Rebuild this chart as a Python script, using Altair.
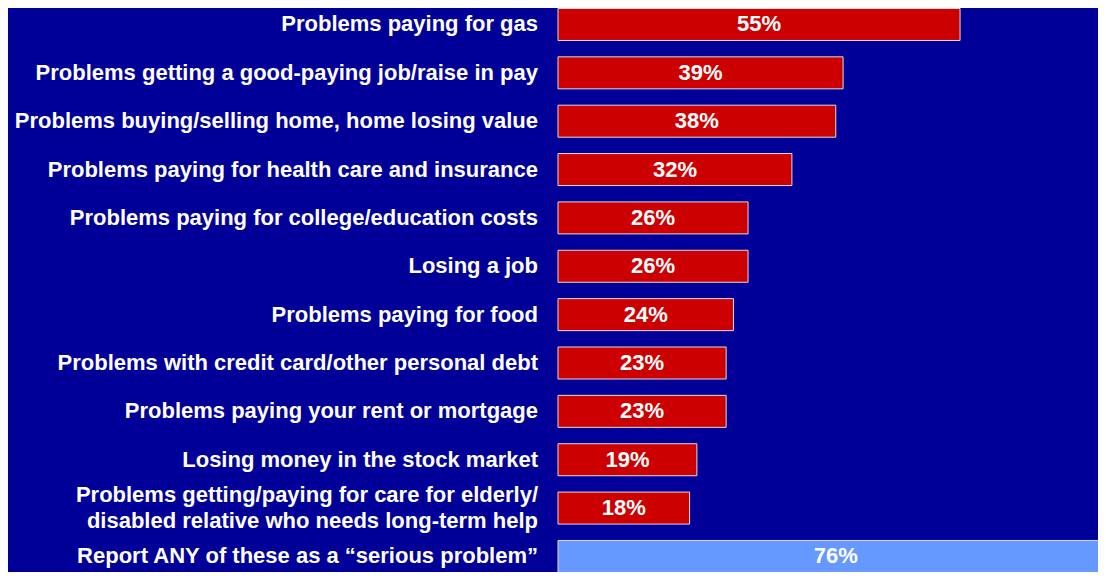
import altair as alt
import pandas as pd

categories = [
    "Problems paying for gas",
    "Problems getting a good-paying job/raise in pay",
    "Problems buying/selling home, home losing value",
    "Problems paying for health care and insurance",
    "Problems paying for college/education costs",
    "Losing a job",
    "Problems paying for food",
    "Problems with credit card/other personal debt",
    "Problems paying your rent or mortgage",
    "Losing money in the stock market",
    "Problems getting/paying for care for elderly/\ndisabled relative who needs long-term help",
    "Report ANY of these as a \u201cserious problem\u201d",
]
values = [55, 39, 38, 32, 26, 26, 24, 23, 23, 19, 18, 76]
kinds = ["item"] * 11 + ["any"]

df = pd.DataFrame({"category": categories, "value": values, "kind": kinds})

BG = "#000099"
FONT = "Liberation Sans"

step = 48.36
start = -7.7
p = 1 - 32 / step

xscale = alt.Scale(domain=[0, 100], range=[550, 1281])
yscale = alt.Scale(
    domain=categories,
    range=[start, start + 12 * step],
    paddingInner=p,
    paddingOuter=p / 2,
)

base = alt.Chart(df)

y_enc = alt.Y("category:N", scale=yscale, axis=None, sort=None)

bars = base.mark_bar(stroke="#DDDDDD", strokeWidth=1).encode(
    x=alt.X("zero:Q", scale=xscale, axis=None),
    x2="value:Q",
    y=y_enc,
    color=alt.Color(
        "kind:N",
        scale=alt.Scale(domain=["item", "any"], range=["#CC0000", "#6699FF"]),
        legend=None,
    ),
).transform_calculate(zero="0")

vals = base.mark_text(
    font=FONT, fontSize=22, fontWeight="bold", color="white",
    align="center", baseline="middle",
).encode(
    x=alt.X("mid:Q", scale=xscale, axis=None),
    y=y_enc,
    text=alt.Text("label:N"),
).transform_calculate(mid="datum.value / 2", label="datum.value + '%'")

label_style = dict(
    font=FONT, fontSize=22, fontWeight="bold", color="white",
    align="right", baseline="middle", lineBreak="\n", lineHeight=26,
)

labels_single = base.mark_text(**label_style).encode(
    x=alt.value(530),
    y=y_enc,
    text="category:N",
).transform_filter("indexof(datum.category, '\\n') < 0")

labels_multi = base.mark_text(dy=-13, **label_style).encode(
    x=alt.value(530),
    y=y_enc,
    text="category:N",
).transform_filter("indexof(datum.category, '\\n') >= 0")

chart = (
    alt.layer(bars, vals, labels_single, labels_multi)
    .properties(
        width=1090, height=564, background=BG,
        padding=0, autosize=alt.AutoSizeParams(type="none"),
    )
    .configure_view(stroke=None)
)

chart.save("out.html", embed_options={"renderer": "svg", "actions": False})
